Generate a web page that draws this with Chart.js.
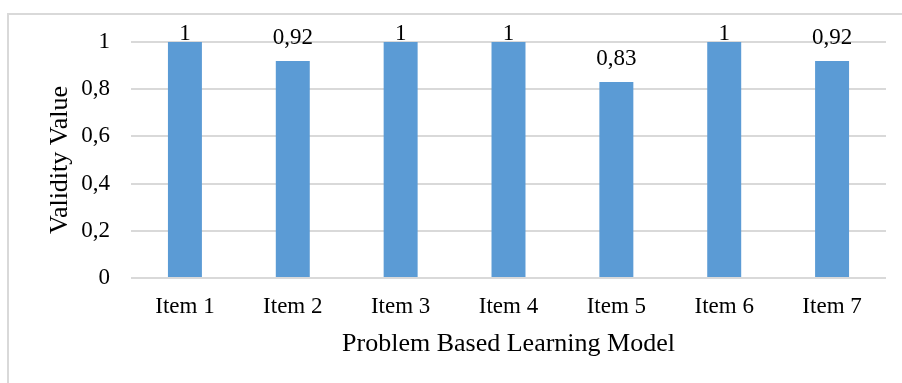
<!DOCTYPE html>
<html>
<head>
<meta charset="utf-8">
<script src="https://cdn.jsdelivr.net/npm/chart.js@4/dist/chart.umd.min.js"></script>
<style>
  html, body { margin: 0; padding: 0; background: #ffffff; }
  canvas { display: block; }
</style>
</head>
<body>
<canvas id="chart" width="902" height="383"></canvas>
<script>
// Content validity per item
const categories = ['Item 1', 'Item 2', 'Item 3', 'Item 4', 'Item 5', 'Item 6', 'Item 7'];
const validity = [1, 0.92, 1, 1, 0.83, 1, 0.92];
const yTickLabels = ['0', '0,2', '0,4', '0,6', '0,8', '1'];
const xTitle = 'Problem Based Learning Model';
const yTitle = 'Validity Value';

const FONT = '"Liberation Serif", "Times New Roman", serif';
const GRID = '#d9d9d9';

const fmt = v => String(v).replace('.', ',');

// White page with the light frame around the chart
const framePlugin = {
  id: 'frame',
  beforeDraw(chart) {
    const ctx = chart.ctx;
    ctx.save();
    ctx.fillStyle = '#ffffff';
    ctx.fillRect(0, 0, chart.width, chart.height);
    ctx.strokeStyle = GRID;
    ctx.lineWidth = 2;
    ctx.strokeRect(8, 14, chart.width + 20, chart.height + 20);
    ctx.restore();
  }
};

// Value labels above each bar, kept inside the plot top
const valueLabels = {
  id: 'valueLabels',
  afterDatasetsDraw(chart) {
    const ctx = chart.ctx;
    const meta = chart.getDatasetMeta(0);
    const top = chart.chartArea.top;
    ctx.save();
    ctx.font = '23px ' + FONT;
    ctx.fillStyle = '#000000';
    ctx.textAlign = 'center';
    ctx.textBaseline = 'alphabetic';
    meta.data.forEach((bar, i) => {
      const y = Math.max(bar.y - 17, top - 2);
      ctx.fillText(fmt(validity[i]), bar.x, y);
    });
    ctx.restore();
  }
};

new Chart(document.getElementById('chart'), {
  type: 'bar',
  data: {
    labels: categories,
    datasets: [{
      data: validity,
      backgroundColor: '#5b9bd5',
      borderWidth: 0,
      categoryPercentage: 1,
      barPercentage: 0.315
    }]
  },
  options: {
    responsive: false,
    animation: false,
    devicePixelRatio: 1,
    layout: { padding: { top: 42, right: 16, bottom: 0, left: 0 } },
    plugins: {
      legend: { display: false },
      tooltip: { enabled: false }
    },
    scales: {
      x: {
        afterFit(scale) { scale.height = 105; },
        grid: { display: false, drawTicks: false },
        border: { display: false },
        ticks: {
          color: '#000000',
          font: { family: FONT, size: 23 },
          padding: 15,
          maxRotation: 0
        },
        title: {
          display: true,
          text: xTitle,
          color: '#000000',
          font: { family: FONT, size: 26 },
          padding: { top: 0, bottom: 23 }
        }
      },
      y: {
        min: 0,
        max: 1,
        afterFit(scale) { scale.width = 131; },
        afterBuildTicks(scale) {
          scale.ticks = yTickLabels.map((_, i) => ({ value: i / (yTickLabels.length - 1) }));
        },
        grid: { color: GRID, lineWidth: 2, drawTicks: false },
        border: { display: false },
        ticks: {
          color: '#000000',
          font: { family: FONT, size: 23 },
          padding: 21,
          callback: (v, i) => yTickLabels[i]
        },
        title: {
          display: true,
          text: yTitle,
          color: '#000000',
          font: { family: FONT, size: 26 },
          padding: { top: 45, bottom: 0 }
        }
      }
    }
  },
  plugins: [framePlugin, valueLabels]
});
</script>
</body>
</html>
